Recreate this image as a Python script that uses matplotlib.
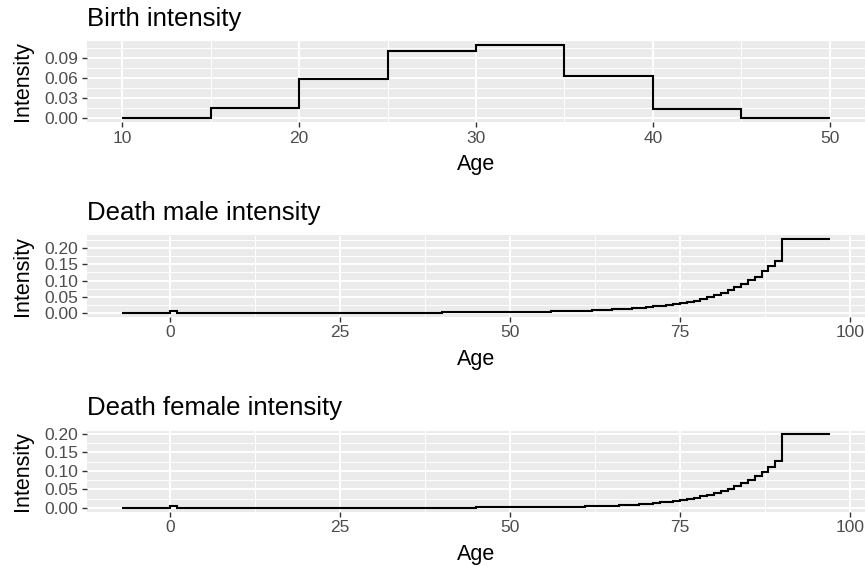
import matplotlib
matplotlib.use("Agg")
import matplotlib.pyplot as plt

# --- data ---
birth_edges = [10, 15, 20, 25, 30, 35, 40, 45, 50]
birth_rate = [0.0, 0.0155, 0.0595, 0.1005, 0.1105, 0.064, 0.0145, 0.0]

# death age edges: one value before birth (-7..0), then yearly 0..90, then 90..97
death_edges = [-7] + list(range(0, 91)) + [97]

male_rate = [
    0.0,      # -7..0
    0.0055,   # 0
    # 1-9
    0.0004, 0.0003, 0.0002, 0.0002, 0.0002, 0.0001, 0.0001, 0.0001, 0.0001,
    # 10-19
    0.0001, 0.0001, 0.0001, 0.0002, 0.0002, 0.0003, 0.0004, 0.0005, 0.0006, 0.0006,
    # 20-29
    0.0006, 0.0006, 0.0006, 0.0006, 0.0006, 0.0006, 0.0006, 0.0006, 0.0006, 0.0006,
    # 30-39
    0.00065, 0.00065, 0.0007, 0.0007, 0.00075, 0.0008, 0.0008, 0.00085, 0.0009, 0.00095,
    # 40-49
    0.001, 0.0011, 0.0012, 0.0013, 0.0014, 0.0015, 0.0017, 0.0018, 0.002, 0.0022,
    # 50-59
    0.0024, 0.0026, 0.0029, 0.0032, 0.0035, 0.0039, 0.0043, 0.0047, 0.0052, 0.0058,
    # 60-69
    0.0064, 0.0071, 0.0079, 0.0087, 0.0096, 0.0106, 0.0118, 0.013, 0.0145, 0.016,
    # 70-79
    0.018, 0.020, 0.022, 0.025, 0.028, 0.031, 0.034, 0.038, 0.043, 0.048,
    # 80-89
    0.055, 0.062, 0.070, 0.079, 0.089, 0.101, 0.112, 0.128, 0.145, 0.159,
    # 90+
    0.228,
]

female_rate = [
    0.0,      # -7..0
    0.0045,   # 0
    # 1-9
    0.0003, 0.0002, 0.0002, 0.0001, 0.0001, 0.0001, 0.0001, 0.0001, 0.0001,
    # 10-19
    0.0001, 0.0001, 0.0001, 0.0001, 0.0001, 0.0002, 0.0002, 0.0002, 0.0003, 0.0003,
    # 20-29
    0.0003, 0.0003, 0.0003, 0.0003, 0.0003, 0.0003, 0.0003, 0.0003, 0.0003, 0.0003,
    # 30-39
    0.0003, 0.0003, 0.00035, 0.00035, 0.0004, 0.0004, 0.00045, 0.00045, 0.0005, 0.0005,
    # 40-49
    0.0006, 0.0006, 0.0007, 0.0007, 0.0008, 0.0009, 0.0009, 0.001, 0.0011, 0.0012,
    # 50-59
    0.0013, 0.0014, 0.0015, 0.0016, 0.0018, 0.002, 0.0022, 0.0024, 0.0027, 0.003,
    # 60-69
    0.0034, 0.0038, 0.0043, 0.0048, 0.0054, 0.0061, 0.0069, 0.0078, 0.0088, 0.0099,
    # 70-79
    0.0112, 0.0127, 0.0144, 0.0163, 0.0185, 0.021, 0.024, 0.027, 0.031, 0.035,
    # 80-89
    0.040, 0.046, 0.052, 0.059, 0.067, 0.076, 0.086, 0.097, 0.111, 0.126,
    # 90+
    0.199,
]

titles = ["Birth intensity", "Death male intensity", "Death female intensity"]
birth_xticks = [10, 20, 30, 40, 50]
birth_yticks = [0.00, 0.03, 0.06, 0.09]
death_xticks = [0, 25, 50, 75, 100]
death_yticks = [0.00, 0.05, 0.10, 0.15, 0.20]

plt.rcParams["font.family"] = ["Liberation Sans", "DejaVu Sans"]

fig = plt.figure(figsize=(8.65, 5.67), dpi=100)

W, H = 865, 567
left, width, height = 87, 778, 81
bottoms = [122, 316.5, 511.5]


def expand(lo, hi, frac=0.05):
    d = (hi - lo) * frac
    return lo - d, hi + d


def style_axes(ax, xticks, yticks, xlim, ylim):
    ax.set_facecolor("#EBEBEB")
    for s in ax.spines.values():
        s.set_visible(False)
    ax.set_xticks(xticks)
    ax.set_yticks(yticks)
    ax.set_yticklabels(["{:.2f}".format(v) for v in yticks])
    step = xticks[1] - xticks[0]
    xminor = [v + step / 2 for v in xticks] + [xticks[0] - step / 2]
    ystep = yticks[1] - yticks[0]
    yminor = [v + ystep / 2 for v in yticks] + [yticks[0] - ystep / 2]
    ax.set_xticks(xminor, minor=True)
    ax.set_yticks(yminor, minor=True)
    # limits after ticks, otherwise the minor ticks widen the view
    ax.set_xlim(*xlim)
    ax.set_ylim(*ylim)
    ax.grid(which="major", color="white", linewidth=1.4)
    ax.grid(which="minor", color="white", linewidth=0.7)
    ax.set_axisbelow(True)
    ax.tick_params(which="major", length=3.8, width=1.0, color="#333333",
                   labelsize=12.5, labelcolor="#4D4D4D", pad=2.5)
    ax.tick_params(which="minor", length=0)
    ax.set_xlabel("Age", fontsize=15.5, labelpad=6)
    ax.set_ylabel("Intensity", fontsize=15.5)
    ax.yaxis.set_label_coords((33 - left) / width, 0.5)


panels = [
    (birth_edges, birth_rate, birth_xticks, birth_yticks),
    (death_edges, male_rate, death_xticks, death_yticks),
    (death_edges, female_rate, death_xticks, death_yticks),
]

for title, bottom, (edges, rate, xt, yt) in zip(titles, bottoms, panels):
    ax = fig.add_axes([left / W, 1 - bottom / H, width / W, height / H])
    ax.stairs(rate, edges, baseline=None, color="black", linewidth=1.5)
    style_axes(ax, xt, yt, expand(min(edges), max(edges)), expand(0, max(rate)))
    ax.set_title(title, loc="left", fontsize=18.5, pad=11)

fig.savefig("out.png", dpi=100)
